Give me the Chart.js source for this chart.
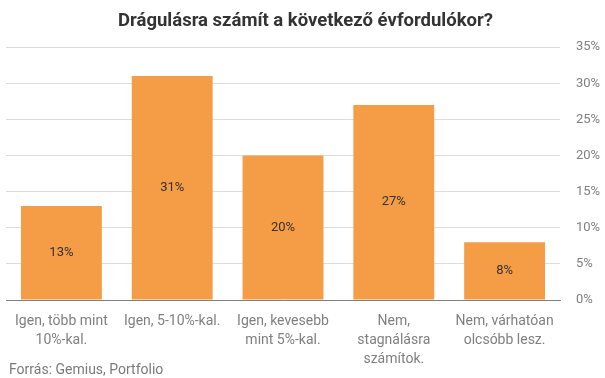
<!DOCTYPE html>
<html><head><meta charset="utf-8">
<script src="https://cdn.jsdelivr.net/npm/chart.js@4/dist/chart.umd.min.js"></script>
<style>
html,body{margin:0;padding:0;background:#fff;}
#wrap{position:relative;width:605px;height:378px;}
#src{position:absolute;left:9px;top:361px;font:14px Roboto, sans-serif;color:#7a7a7a;}
</style></head>
<body><div id="wrap"><canvas id="c" width="605" height="378"></canvas><div id="src">Forrás: Gemius, Portfolio</div></div>
<script>
const categories = [["Igen, több mint","10%-kal."],"Igen, 5-10%-kal.",["Igen, kevesebb","mint 5%-kal."],["Nem,","stagnálásra","számítok."],["Nem, várhatóan","olcsóbb lesz."]];
const values = [13, 31, 20, 27, 8];
const titleText = "Drágulásra számít a következő évfordulókor?";

const labelPlugin = {
  id:'lbl',
  afterDatasetsDraw(chart){
    const ctx = chart.ctx;
    const meta = chart.getDatasetMeta(0);
    ctx.save();
    ctx.font = '13px Roboto, sans-serif';
    ctx.fillStyle = '#333';
    ctx.textAlign = 'center';
    ctx.textBaseline = 'middle';
    meta.data.forEach((el,i)=>{
      const y = (el.y + el.base)/2;
      ctx.fillText(values[i] + '%', el.x, y);
    });
    ctx.restore();
  }
};

new Chart(document.getElementById('c'), {
  type:'bar',
  data:{labels:categories, datasets:[{data:values, backgroundColor:'#F59C46', barPercentage:0.73, categoryPercentage:1.0}]},
  options:{
    responsive:false, animation:false,
    layout:{padding:{left:6,right:0,top:4,bottom:0}},
    plugins:{
      legend:{display:false}, tooltip:{enabled:false},
      title:{display:true, text:titleText, color:'#333', font:{family:'Roboto', size:18.5, weight:'bold'}, padding:{top:6,bottom:15}},
    },
    scales:{
      x:{grid:{display:false, drawTicks:false}, border:{display:true,color:'#808080'},
         ticks:{color:'#7f7f7f', font:{family:'Roboto', size:14, lineHeight:1.36}, padding:12, maxRotation:0, autoSkip:false},
         afterFit:s=>{s.height=78;}},
      y:{position:'right', min:0, max:35,
         grid:{color:'#ddd', drawTicks:false}, border:{display:false},
         ticks:{stepSize:5, color:'#7f7f7f', font:{family:'Roboto', size:13}, padding:16, callback:v=>v+'%'},
         afterFit:s=>{s.width=45;}}
    }
  },
  plugins:[labelPlugin]
});
</script></body></html>
